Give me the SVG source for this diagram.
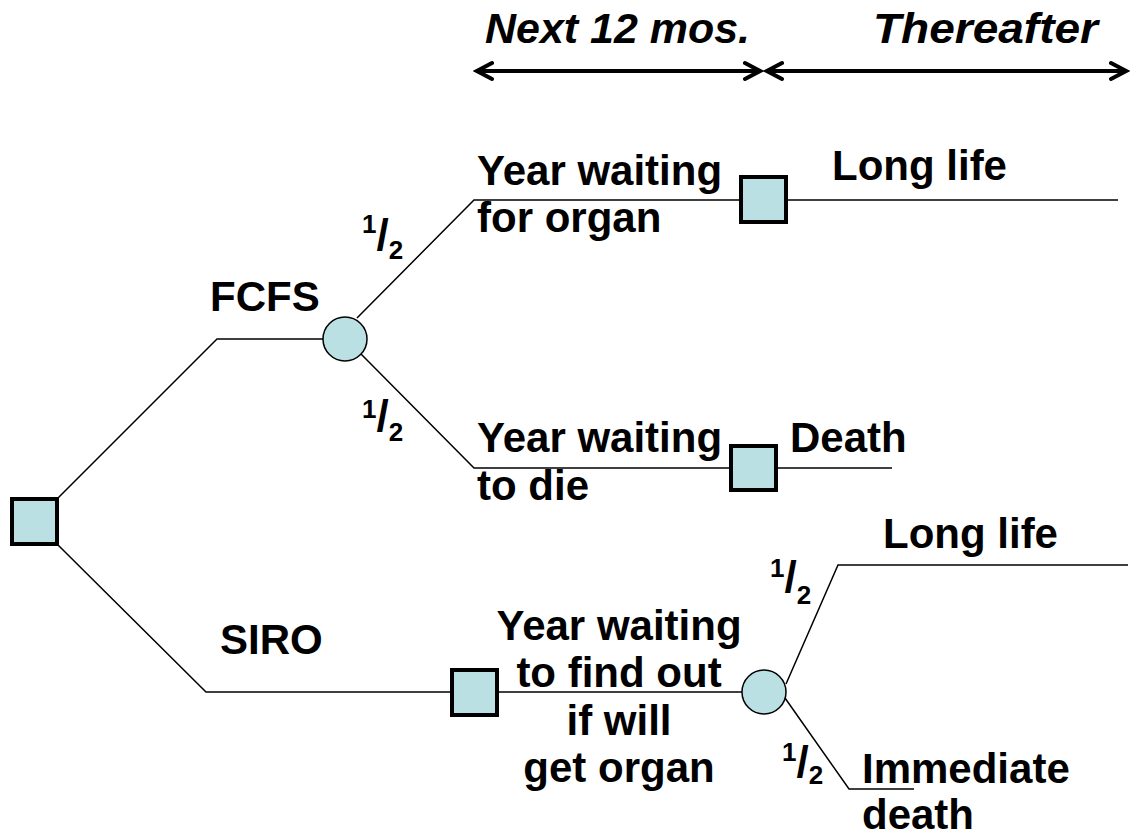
<svg xmlns="http://www.w3.org/2000/svg" width="1130" height="838" viewBox="0 0 1130 838">
<style>
  text { font-family: "Liberation Sans", Arial, sans-serif; font-weight: bold; fill: #000; }
  .lbl { font-size: 42px; }
  .hdr { font-size: 42px; font-style: italic; }
  .sm { font-size: 26px; }
  .sl { font-size: 44px; }
  .dec { fill: #bbe0e3; stroke: #000; stroke-width: 4; }
  .chc { fill: #bbe0e3; stroke: #000; stroke-width: 1.5; }
  .br { fill: none; stroke: #000; stroke-width: 1.5; }
  .tl { fill: none; stroke: #000; stroke-width: 4; }
</style>
<defs>
  <marker id="chev" markerUnits="userSpaceOnUse" markerWidth="24" markerHeight="24" viewBox="-20 -12 24 24" refX="0" refY="0" orient="auto-start-reverse">
    <path d="M-15,-8 L0,0 L-15,8" fill="none" stroke="#000" stroke-width="4" stroke-linecap="round" stroke-linejoin="miter"/>
  </marker>
</defs>
<rect width="1130" height="838" fill="#fff"/>

<g id="timeline">
  <text class="hdr" x="485" y="43" textLength="265" lengthAdjust="spacingAndGlyphs">Next 12 mos.</text>
  <text class="hdr" x="873" y="43" textLength="225" lengthAdjust="spacingAndGlyphs">Thereafter</text>
  <line class="tl" x1="477" y1="71" x2="760" y2="71" marker-start="url(#chev)" marker-end="url(#chev)"/>
  <line class="tl" x1="767" y1="71" x2="1126" y2="71" marker-start="url(#chev)" marker-end="url(#chev)"/>
</g>

<g id="connectors">
  <path class="br" d="M57,499 L217,339 L323,339"/>
  <path class="br" d="M357,318 L474,200 L741,200"/>
  <path class="br" d="M786,200 L1118,200"/>
  <path class="br" d="M361,354 L474,468 L731,468"/>
  <path class="br" d="M776,468 L892,468"/>
  <path class="br" d="M57,544 L206,692 L452,692"/>
  <path class="br" d="M497,692 L742,692"/>
  <path class="br" d="M786,684 L838,565 L1128,565"/>
  <path class="br" d="M785,698 L849,789 L914,789"/>
</g>

<g id="root"><rect class="dec" x="12" y="499" width="45" height="45"/></g>
<g id="fcfs-chance"><circle class="chc" cx="345" cy="339" r="22"/></g>
<g id="organ-decision"><rect class="dec" x="741" y="177" width="45" height="45"/></g>
<g id="die-decision"><rect class="dec" x="731" y="446" width="45" height="44"/></g>
<g id="siro-decision"><rect class="dec" x="452" y="670" width="45" height="45"/></g>
<g id="siro-chance"><circle class="chc" cx="764" cy="692" r="22"/></g>

<g id="labels">
  <text class="lbl" x="210" y="311">FCFS</text>
  <text class="lbl" x="220" y="654">SIRO</text>
  <text class="lbl" x="477" y="185">Year waiting</text>
  <text class="lbl" x="477" y="232">for organ</text>
  <text class="lbl" x="832" y="180">Long life</text>
  <text class="lbl" x="477" y="452">Year waiting</text>
  <text class="lbl" x="477" y="500">to die</text>
  <text class="lbl" x="790" y="452">Death</text>
  <text class="lbl" x="883" y="548">Long life</text>
  <text class="lbl" text-anchor="middle" x="619" y="640">Year waiting</text>
  <text class="lbl" text-anchor="middle" x="619" y="687">to find out</text>
  <text class="lbl" text-anchor="middle" x="619" y="735">if will</text>
  <text class="lbl" text-anchor="middle" x="619" y="782">get organ</text>
  <text class="lbl" x="862" y="783">Immediate</text>
  <text class="lbl" x="862" y="829">death</text>
</g>

<g id="probabilities">
  <text x="362" y="233"><tspan class="sm">1</tspan><tspan class="sl" dy="17">/</tspan><tspan class="sm" dy="9">2</tspan></text>
  <text x="362" y="418"><tspan class="sm">1</tspan><tspan class="sl" dy="13">/</tspan><tspan class="sm" dy="10">2</tspan></text>
  <text x="770" y="577"><tspan class="sm">1</tspan><tspan class="sl" dy="15">/</tspan><tspan class="sm" dy="12">2</tspan></text>
  <text x="782" y="761"><tspan class="sm">1</tspan><tspan class="sl" dy="16">/</tspan><tspan class="sm" dy="7">2</tspan></text>
</g>
</svg>
